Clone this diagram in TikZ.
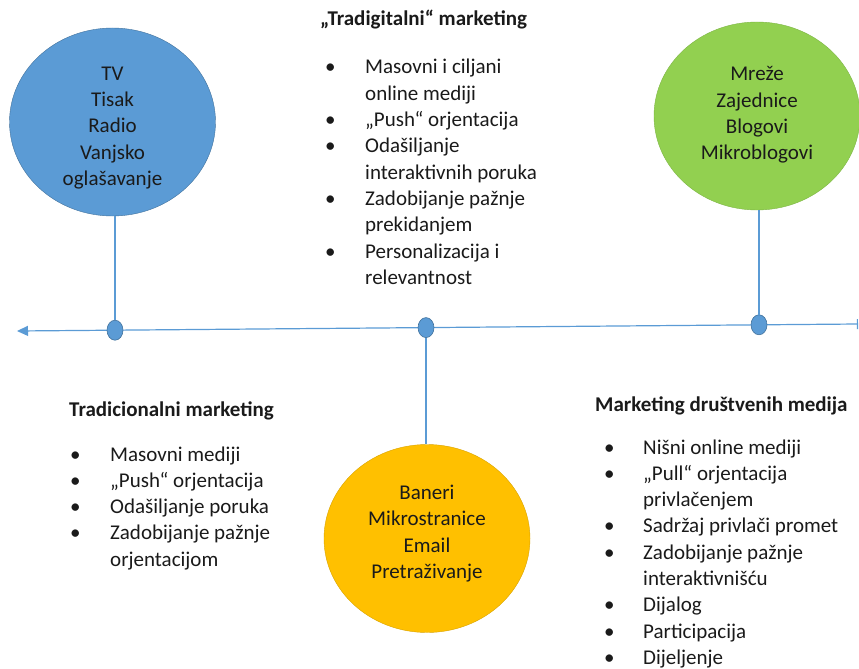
\documentclass[tikz,border=0pt]{standalone}
\usepackage{fontspec}
\setmainfont{Carlito}
\usetikzlibrary{shapes.geometric,arrows.meta}

\definecolor{lineblue}{HTML}{5B9BD5}
\definecolor{blueedge}{HTML}{41719C}
\definecolor{greenfill}{HTML}{92D050}
\definecolor{greenedge}{HTML}{7DB545}
\definecolor{yellowfill}{HTML}{FFC000}
\definecolor{yellowedge}{HTML}{D9A300}
\definecolor{textgrey}{HTML}{1A1A1A}

\newcommand{\bodyfont}{\fontsize{21}{26.3}\selectfont}
\newcommand{\itm}{\textbullet &}

\begin{document}
\begin{tikzpicture}[x=1pt,y=-1pt,
  every node/.style={inner sep=0pt,text=textgrey},
  bubble/.style={ellipse, minimum width=206pt, minimum height=188pt},
  bubbletext/.style={align=center, font=\bodyfont},
  dot/.style={ellipse, fill=lineblue, draw=blueedge, line width=0.6pt, minimum width=16pt, minimum height=20pt},
  link/.style={draw=lineblue, line width=1.2pt},
  heading/.style={anchor=base west, font=\bodyfont\bfseries},
  list/.style={anchor=base west, font=\bodyfont}]
  \useasboundingbox (0,0) rectangle (859,669);

  % timeline
  \coordinate (leftend) at (17,331);
  \coordinate (rightend) at (858,324);
  \draw [link, {Triangle[width=10pt,length=11pt]}-{Bar[width=10pt]}] (leftend) -- (rightend);

  % the three media groups
  \node [bubble, fill=lineblue, draw=blueedge] (blue) at (112.5,122) {};
  \node [bubbletext] (bluetext) at ([yshift=-6pt]blue.center)
    {TV\\Tisak\\Radio\\Vanjsko\\oglašavanje};
  \node [bubble, fill=greenfill, draw=greenedge] (green) at (757,116) {};
  \node [bubbletext] (greentext) at ([yshift=1pt]green.center)
    {Mreže\\Zajednice\\Blogovi\\Mikroblogovi};
  \node [bubble, fill=yellowfill, draw=yellowedge] (yellow) at (427,538.5) {};
  \node [bubbletext] (yellowtext) at ([yshift=5pt]yellow.center)
    {Baneri\\Mikrostranice\\Email\\Pretraživanje};

  \node [dot] (bluedot) at (115,330.2) {};
  \node [dot] (middot) at (426,327.6) {};
  \node [dot] (greendot) at (759,324.8) {};

  \draw [link] (bluedot) -- (bluedot |- blue.south);
  \draw [link] (middot) -- (middot |- yellow.north);
  \draw [link] (greendot) -- (greendot |- green.south);

  % lists
  \node [heading] (tradighead) at (320,26) {„Tradigitalni“ marketing};
  \node [list] (tradiglist) at (325,74) {\begin{tabular}[t]{@{}p{40pt}@{}l@{}}
    \itm Masovni i ciljani\\
         & online mediji\\
    \itm „Push“ orjentacija\\
    \itm Odašiljanje\\
         & interaktivnih poruka\\
    \itm Zadobijanje pažnje\\
         & prekidanjem\\
    \itm Personalizacija i\\
         & relevantnost
  \end{tabular}};

  \node [heading] (tradhead) at (69,416) {Tradicionalni marketing};
  \node [list] (tradlist) at (70,461) {\begin{tabular}[t]{@{}p{40pt}@{}l@{}}
    \itm Masovni mediji\\
    \itm „Push“ orjentacija\\
    \itm Odašiljanje poruka\\
    \itm Zadobijanje pažnje\\
         & orjentacijom
  \end{tabular}};

  \node [heading] (socialhead) at (595,411) {Marketing društvenih medija};
  \node [list] (sociallist) at (604,454) {\begin{tabular}[t]{@{}p{39pt}@{}l@{}}
    \itm Nišni online mediji\\
    \itm „Pull“ orjentacija\\
         & privlačenjem\\
    \itm Sadržaj privlači promet\\
    \itm Zadobijanje pažnje\\
         & interaktivnišću\\
    \itm Dijalog\\
    \itm Participacija\\
    \itm Dijeljenje
  \end{tabular}};
\end{tikzpicture}
\end{document}
